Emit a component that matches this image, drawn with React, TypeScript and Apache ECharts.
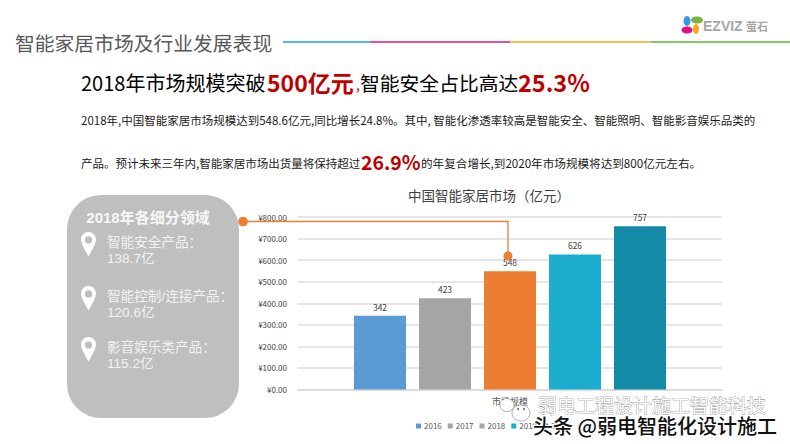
import React, { useEffect, useRef } from "react";
import * as echarts from "echarts";

const categories = ["市场规模"];
const years = ["2016", "2017", "2018", "2019", "2020"];
const values = [342, 423, 548, 626, 757];
const barColors = ["#5B9BD5", "#A5A5A5", "#ED7D31", "#1CADCE", "#148BA6"];
const legendColors = ["#5B9BD5", "#A5A5A5", "#A5A5A5", "#1CADCE", "#148BA6"];
const panelItems = [
  ["智能安全产品：", "138.7亿"],
  ["智能控制/连接产品：", "120.6亿"],
  ["影音娱乐类产品：", "115.2亿"],
];
const panelY = [242, 296, 347];

const CJK = '"Noto Sans CJK SC","Noto Sans",sans-serif';
const LATIN = '"Liberation Sans","Noto Sans CJK SC",sans-serif';
const PIN = "M6 0C2.7 0 0 2.7 0 6C0 9.5 3.5 15 6 19.5C8.5 15 12 9.5 12 6C12 2.7 9.3 0 6 0ZM6 3.4A2.9 2.9 0 1 1 6 9.2A2.9 2.9 0 1 1 6 3.4Z";
echarts.graphic.registerShape("pinmark", (echarts.graphic as any).extendPath(PIN, {}));

const t = (text: string, x: number, y: number, size: number, fill: string, extra: any = {}) => ({
  type: "text",
  x,
  y,
  z: extra.z ?? 20,
  style: {
    text,
    fill,
    font: `${extra.weight ?? "normal"} ${size}px ${extra.family ?? CJK}`,
    textAlign: extra.align ?? "left",
    textVerticalAlign: "middle",
    stroke: extra.stroke,
    lineWidth: extra.lineWidth,
    opacity: extra.opacity,
  },
});
const seg = (x1: number, x2: number, color: string) => ({
  type: "line",
  z: 20,
  shape: { x1, y1: 42, x2, y2: 42 },
  style: { stroke: color, lineWidth: 2 },
});

export default function App() {
  const ref = useRef<HTMLDivElement>(null);
  useEffect(() => {
    const chart = echarts.init(ref.current!, null, { renderer: "svg" });
    const graphic: any[] = [
      t("智能家居市场及行业发展表现", 15, 42, 19.8, "#595959"),
      seg(283, 370, "#4FBDEB"),
      seg(370, 510, "#E8509F"),
      seg(510, 651, "#F9BE4F"),
      seg(651, 790, "#84C76F"),
      // logo
      { type: "ellipse", z: 20, shape: { cx: 687, cy: 21, rx: 3.5, ry: 5 }, style: { fill: "#2E9BE6" } },
      { type: "ellipse", z: 20, shape: { cx: 697, cy: 20, rx: 6, ry: 3.5 }, style: { fill: "#7CB342" } },
      { type: "ellipse", z: 20, shape: { cx: 687, cy: 30, rx: 5.5, ry: 3.5 }, style: { fill: "#E0107F" } },
      { type: "ellipse", z: 20, shape: { cx: 696, cy: 29, rx: 3, ry: 5 }, style: { fill: "#F5A81C" } },
      t("EZVIZ", 703, 26, 14, "#A6A6A6", { family: '"Liberation Sans",sans-serif', weight: "bold" }),
      t("萤石", 746, 26, 11, "#A6A6A6", { weight: "bold" }),
      // headline
      t("2018年市场规模突破", 81, 82, 20, "#000000"),
      t("500亿元", 267, 82, 23, "#C00000", { weight: "bold" }),
      t(",", 356, 84, 14, "#C00000"),
      t("智能安全占比高达", 360, 82, 19.8, "#000000"),
      t("25.3%", 518, 82, 23.5, "#C00000", { weight: "bold" }),
      // body
      t("2018年,中国智能家居市场规模达到548.6亿元,同比增长24.8%。其中, 智能化渗透率较高是智能安全、智能照明、智能影音娱乐品类的", 81, 120, 11.5, "#1a1a1a"),
      t("产品。预计未来三年内,智能家居市场出货量将保持超过", 81, 163, 11.5, "#1a1a1a"),
      t("26.9%", 361, 161, 19.5, "#C00000", { weight: "bold" }),
      t("的年复合增长,到2020年市场规模将达到800亿元左右。", 421, 163, 11.6, "#1a1a1a"),
      t("中国智能家居市场（亿元）", 489, 195, 13.5, "#404040", { align: "center" }),
      // panel
      { type: "rect", z: 10, shape: { x: 67, y: 195, width: 172, height: 223, r: 34 }, style: { fill: "#BFBFBF" } },
      t("2018年各细分领域", 148, 217, 15, "#F7F7F7", { align: "center", weight: "bold", family: LATIN }),
      // connector
      { type: "polyline", z: 21, shape: { points: [[243, 221.5], [508, 221.5], [508, 256]] }, style: { stroke: "#ED7D31", lineWidth: 1.3, fill: "none" } },
      { type: "circle", z: 21, shape: { cx: 243, cy: 221.5, r: 4.8 }, style: { fill: "#ED7D31" } },
      { type: "circle", z: 21, shape: { cx: 508, cy: 256, r: 4.5 }, style: { fill: "#ED7D31" } },
      // watermark
      { type: "ellipse", z: 30, shape: { cx: 507, cy: 405, rx: 7, ry: 6.5 }, style: { fill: "#FFFFFF", stroke: "#8C8C8C", lineWidth: 0.7 } },
      { type: "ellipse", z: 30, shape: { cx: 521, cy: 413, rx: 9, ry: 8 }, style: { fill: "#FFFFFF", stroke: "#8C8C8C", lineWidth: 0.7 } },
      { type: "circle", z: 30, shape: { cx: 518, cy: 409, r: 1 }, style: { fill: "#666666" } },
      { type: "circle", z: 30, shape: { cx: 524, cy: 409, r: 1 }, style: { fill: "#666666" } },
      t("弱电工程设计施工智能科技", 538, 404, 19, "#FFFFFF", { z: 31, stroke: "#6E6E6E", lineWidth: 0.6 }),
      t("头条 @弱电智能化设计施工", 533, 425, 20, "#111111", { z: 32, stroke: "#FFFFFF", lineWidth: 2, weight: 500 }),
    ];
    panelItems.forEach((item, i) => {
      const y = panelY[i];
      graphic.push(
        { type: "pinmark", z: 20, x: 81, y: y - 10, scaleX: 1.25, scaleY: 1.25, style: { fill: "#FFFFFF" } },
        t(item[0], 107, y, 13.6, "#F2F2F2", { family: LATIN }),
        t(item[1], 107, y + 16.5, 13.6, "#F2F2F2", { family: LATIN })
      );
    });
    chart.setOption({
      animation: false,
      backgroundColor: "#FFFFFF",
      grid: { left: 298, right: 68, top: 217, bottom: 54.5 },
      legend: {
        left: 411,
        top: 417,
        itemWidth: 5,
        itemHeight: 5,
        itemGap: 6,
        icon: "rect",
        textStyle: { fontSize: 8, color: "#595959", fontFamily: CJK, padding: [0, 0, 0, -2] },
        data: years.map((name, i) => ({ name, itemStyle: { color: legendColors[i] } })),
      },
      xAxis: {
        type: "category",
        data: categories,
        axisTick: { show: false },
        axisLine: { lineStyle: { color: "#D9D9D9", width: 1.5 } },
        axisLabel: { fontSize: 9, color: "#595959", margin: 7, fontFamily: CJK },
      },
      yAxis: {
        type: "value",
        min: 0,
        max: 800,
        interval: 100,
        axisLine: { show: false },
        axisTick: { show: false },
        axisLabel: { fontSize: 8, color: "#404040", margin: 11, fontFamily: CJK, formatter: (v: number) => `¥${v.toFixed(2)}` },
        splitLine: { lineStyle: { color: "#DEDEDE", width: 1.5 } },
      },
      series: years.map((name, i) => ({
        name,
        type: "bar",
        barWidth: 52,
        barGap: "25%",
        data: [values[i]],
        itemStyle: { color: barColors[i] },
        label: { show: true, position: "top", distance: 5, fontSize: 8.5, color: "#404040", fontFamily: CJK },
      })),
      graphic: { elements: graphic },
    });
    return () => chart.dispose();
  }, []);
  return <div ref={ref} style={{ position: "fixed", left: 0, top: 0, width: 790, height: 444 }} />;
}
